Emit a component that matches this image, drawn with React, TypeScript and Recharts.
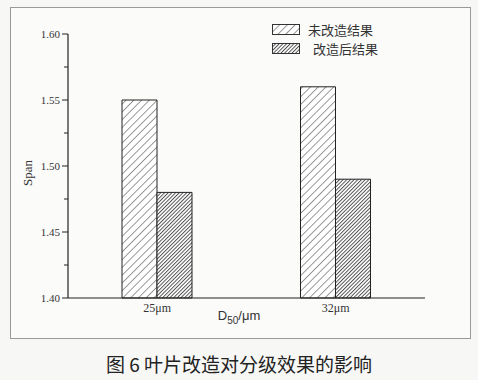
import React from 'react';
import { BarChart, Bar, XAxis, YAxis, Legend } from 'recharts';

const categories = ['25μm', '32μm'];
const beforeValues = [1.55, 1.56];
const afterValues = [1.48, 1.49];
const seriesNames = ['未改造结果', '改造后结果'];
const yTicks = [1.4, 1.425, 1.45, 1.475, 1.5, 1.525, 1.55, 1.575, 1.6];
const majorTicks = ['1.40', '1.45', '1.50', '1.55', '1.60'];

const data = categories.map((c, i) => ({ cat: c, before: beforeValues[i], after: afterValues[i] }));

const YTick = (props: any) => {
  const { x, y, payload } = props;
  const label = Number(payload.value).toFixed(2);
  const major = majorTicks.includes(label);
  return (
    <g>
      <line x1={x - (major ? 6 : 4)} x2={x} y1={y} y2={y} stroke="#222" strokeWidth={1} />
      {major && (
        <text x={x - 8} y={y} dy={4} textAnchor="end" fontFamily="'Liberation Serif', serif" fontSize={11} fill="#333">
          {label}
        </text>
      )}
    </g>
  );
};

const XTick = (props: any) => {
  const { x, y, payload } = props;
  return (
    <text x={x} y={y} dy={10} textAnchor="middle" fontFamily="'Liberation Serif', serif" fontSize={12} fill="#333">
      {payload.value}
    </text>
  );
};

const LegendContent = () => (
  <div style={{ fontFamily: "'Noto Sans CJK SC', sans-serif", fontSize: 13, color: '#333', lineHeight: '19px' }}>
    {seriesNames.map((n, i) => (
      <div key={n} style={{ display: 'flex', alignItems: 'center', height: 19 }}>
        <svg width={28} height={11} style={{ marginRight: i === 0 ? 8 : 13 }}>
          <rect x={0.5} y={0.5} width={27} height={10} fill={i === 0 ? 'url(#hatchSparse)' : 'url(#hatchDense)'} stroke="#333" strokeWidth={1} />
        </svg>
        <span>{n}</span>
      </div>
    ))}
  </div>
);

export default function App() {
  return (
    <div style={{ position: 'absolute', left: 0, top: 0, width: 478, height: 380, background: '#f7f7f5', overflow: 'hidden' }}>
      <svg width={0} height={0} style={{ position: 'absolute' }}>
        <defs>
          <pattern id="hatchSparse" patternUnits="userSpaceOnUse" width={5.5} height={5.5} patternTransform="rotate(45)">
            <rect width={5.5} height={5.5} fill="#ffffff" />
            <line x1={0} y1={0} x2={0} y2={5.5} stroke="#333" strokeWidth={1} />
          </pattern>
          <pattern id="hatchDense" patternUnits="userSpaceOnUse" width={2.6} height={2.6} patternTransform="rotate(45)">
            <rect width={2.6} height={2.6} fill="#ffffff" />
            <line x1={0.5} y1={0} x2={0.5} y2={2.6} stroke="#444" strokeWidth={0.9} />
          </pattern>
        </defs>
      </svg>
      <div style={{ position: 'absolute', left: 10, top: 7, width: 459, height: 330, border: '1px solid #999', background: '#fbfbfa' }} />
      <div style={{ position: 'absolute', left: 0, top: 0 }}>
        <BarChart width={478} height={380} data={data} margin={{ top: 34, right: 53, bottom: 52, left: 0 }} barGap={0}>
          <XAxis
            dataKey="cat"
            height={30}
            tickLine={false}
            tickSize={0}
            tickMargin={4}
            tick={<XTick />}
            axisLine={{ stroke: '#222', strokeWidth: 1.2 }}
            label={{
              content: () => (
                <text x={239} y={320} textAnchor="middle" fontFamily="'Liberation Sans', sans-serif" fontSize={13} fill="#333">
                  D<tspan fontSize={10} dy={4}>50</tspan><tspan dy={-4}>/μm</tspan>
                </text>
              ),
            }}
          />
          <YAxis
            width={68}
            domain={[1.4, 1.6]}
            ticks={yTicks}
            interval={0}
            tickLine={false}
            tickSize={0}
            tickMargin={0}
            tick={<YTick />}
            axisLine={{ stroke: '#222', strokeWidth: 1.2 }}
            label={{
              content: () => (
                <text x={32} y={173} textAnchor="middle" transform="rotate(-90 32 173)" fontFamily="'Liberation Serif', serif" fontSize={13} fill="#333">
                  Span
                </text>
              ),
            }}
          />
          <Legend
            layout="vertical"
            align="center"
            verticalAlign="middle"
            content={<LegendContent />}
            wrapperStyle={{ position: 'absolute', left: 272, top: 20, width: 130 }}
          />
          <Bar dataKey="before" name={seriesNames[0]} barSize={35} fill="url(#hatchSparse)" stroke="#222" strokeWidth={1} isAnimationActive={false} />
          <Bar dataKey="after" name={seriesNames[1]} barSize={35} fill="url(#hatchDense)" stroke="#222" strokeWidth={1} isAnimationActive={false} />
        </BarChart>
      </div>
      <div style={{ position: 'absolute', left: 0, width: 478, top: 350, textAlign: 'center', fontFamily: "'Noto Sans CJK SC', sans-serif", fontSize: 19, color: '#222' }}>
        图 6 叶片改造对分级效果的影响
      </div>
    </div>
  );
}
